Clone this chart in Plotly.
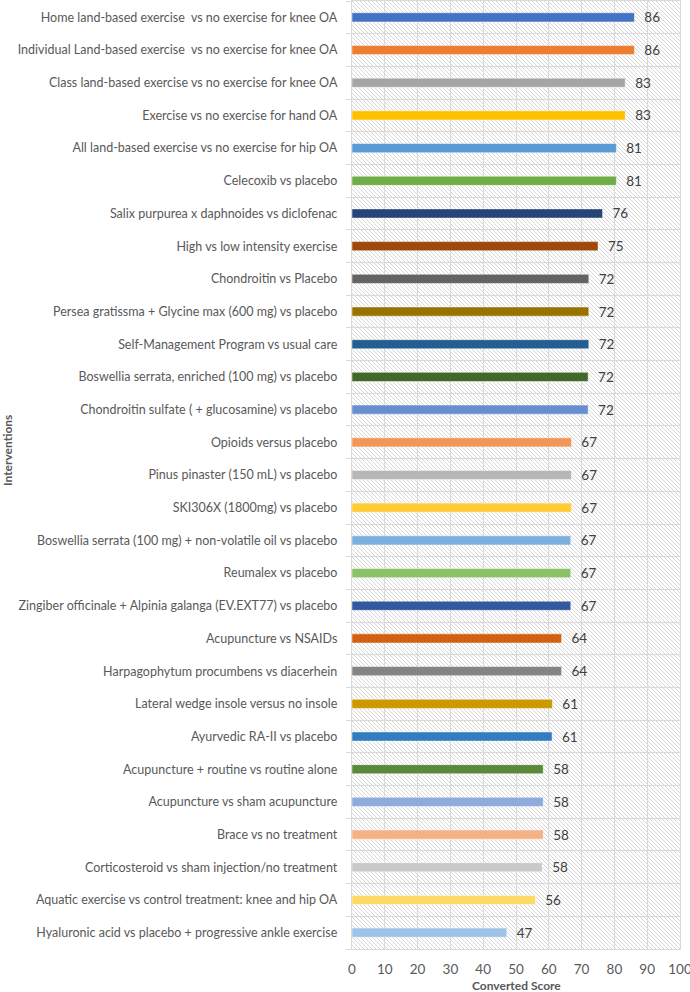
import base64
import plotly.graph_objects as go

interventions = [
    "Home land-based exercise  vs no exercise for knee OA",
    "Individual Land-based exercise  vs no exercise for knee OA",
    "Class land-based exercise vs no exercise for knee OA",
    "Exercise vs no exercise for hand OA",
    "All land-based exercise vs no exercise for hip OA",
    "Celecoxib vs placebo",
    "Salix purpurea x daphnoides vs diclofenac",
    "High vs low intensity exercise",
    "Chondroitin vs Placebo",
    "Persea gratissma + Glycine max (600 mg) vs placebo",
    "Self-Management Program vs usual care",
    "Boswellia serrata, enriched (100 mg) vs placebo",
    "Chondroitin sulfate ( + glucosamine) vs placebo",
    "Opioids versus placebo",
    "Pinus pinaster (150 mL) vs placebo",
    "SKI306X (1800mg) vs placebo",
    "Boswellia serrata (100 mg) + non-volatile oil vs placebo",
    "Reumalex vs placebo",
    "Zingiber officinale + Alpinia galanga (EV.EXT77) vs placebo",
    "Acupuncture vs NSAIDs",
    "Harpagophytum procumbens vs diacerhein",
    "Lateral wedge insole versus no insole",
    "Ayurvedic RA-II vs placebo",
    "Acupuncture + routine vs routine alone",
    "Acupuncture vs sham acupuncture",
    "Brace vs no treatment",
    "Corticosteroid vs sham injection/no treatment",
    "Aquatic exercise vs control treatment: knee and hip OA",
    "Hyaluronic acid vs placebo + progressive ankle exercise",
]

scores = [86.1, 86.1, 83.3, 83.3, 80.6, 80.6, 76.4, 75.0, 72.2, 72.2, 72.2,
          72.0, 72.0, 66.9, 66.9, 66.9, 66.7, 66.7, 66.7, 63.9, 63.9, 61.1,
          61.0, 58.3, 58.3, 58.3, 58.0, 55.9, 47.2]

bar_colors = ["#4472C4", "#ED7D31", "#A5A5A5", "#FFC000", "#5B9BD5", "#70AD47",
              "#264478", "#9E480E", "#636363", "#997300", "#255E91", "#43682B",
              "#698ED0", "#F1975A", "#B7B7B7", "#FFCD33", "#7CAFDD", "#8CC168",
              "#335AA1", "#D26012", "#848484", "#CC9A00", "#327DC2", "#5A8A39",
              "#8FAADC", "#F4B183", "#C9C9C9", "#FFD966", "#9DC3E6"]

x_ticks = list(range(0, 101, 10))

W, H = 690, 992
ML, MR, MT, MB = 352, 10, 1, 43
PW, PH = W - ML - MR, H - MT - MB

n = len(interventions)
pos = list(range(n))

svg = (f'<svg xmlns="http://www.w3.org/2000/svg" width="{PW}" height="{PH}">'
       '<defs><pattern id="h" width="4" height="4" patternUnits="userSpaceOnUse">'
       '<path d="M-1,-1 L5,5 M-1,3 L1,5 M3,-1 L5,1" stroke="#d3d3d3" stroke-width="0.9"/>'
       '</pattern></defs>'
       '<rect width="100%" height="100%" fill="#ffffff"/>'
       '<rect width="100%" height="100%" fill="url(#h)"/></svg>')
svg_uri = "data:image/svg+xml;base64," + base64.b64encode(svg.encode()).decode()

font = "Lato"

fig = go.Figure()
fig.add_trace(go.Bar(
    x=scores, y=pos, orientation="h", width=0.28,
    marker=dict(color=bar_colors, line=dict(color="rgba(255,255,255,0.6)", width=0.8)),
    texttemplate="\u00a0\u00a0%{x:.0f}", textposition="outside",
    constraintext="none",
    textfont=dict(family=font, size=13.5, color="#404040"),
    cliponaxis=False, showlegend=False, hoverinfo="skip",
))

fig.update_layout(
    width=W, height=H,
    margin=dict(l=ML, r=MR, t=MT, b=MB, autoexpand=False),
    paper_bgcolor="white", plot_bgcolor="rgba(0,0,0,0)",
    font=dict(family=font, size=12, color="#595959"),
    images=[dict(source=svg_uri, xref="paper", yref="paper", x=0, y=1,
                 sizex=1, sizey=1, sizing="stretch", xanchor="left",
                 yanchor="top", layer="below")],
    xaxis=dict(range=[0, 100], tickvals=x_ticks, showgrid=True,
               gridcolor="#d9d9d9", gridwidth=1.3, zeroline=False,
               showline=True, linecolor="#d9d9d9", linewidth=1.3, mirror=True,
               ticks="", ticklabelstandoff=8, ticklabeloverflow="allow",
               tickfont=dict(family=font, size=13.5, color="#595959")),
    yaxis=dict(range=[n - 0.5, -0.5], tickvals=pos, ticktext=interventions,
               showgrid=False, zeroline=False, showline=True,
               linecolor="#d9d9d9", linewidth=1.3, mirror=True,
               ticks="", ticklabelstandoff=11,
               tickfont=dict(family=font, size=12.5, color="#595959"),
               minor=dict(tickvals=[i - 0.5 for i in range(n + 1)],
                          showgrid=True, gridcolor="#d9d9d9", gridwidth=1.3,
                          ticks="outside", ticklen=5, tickcolor="#d9d9d9")),
    annotations=[
        dict(text="<b>Converted Score</b>", xref="paper", yref="paper",
             x=0.5, y=-(985 - (MT + PH)) / PH, xanchor="center", yanchor="middle",
             showarrow=False, font=dict(family=font, size=12, color="#595959")),
        dict(text="<b>Interventions</b>", xref="paper", yref="paper",
             x=(7 - ML) / PW, y=1 - (451 - MT) / PH, xanchor="center",
             yanchor="middle", textangle=-90, showarrow=False,
             font=dict(family=font, size=12, color="#595959")),
    ],
)

fig.write_html("out.html", config={"displayModeBar": False},
               post_script="document.body.style.margin='0';document.body.style.overflow='hidden';")
